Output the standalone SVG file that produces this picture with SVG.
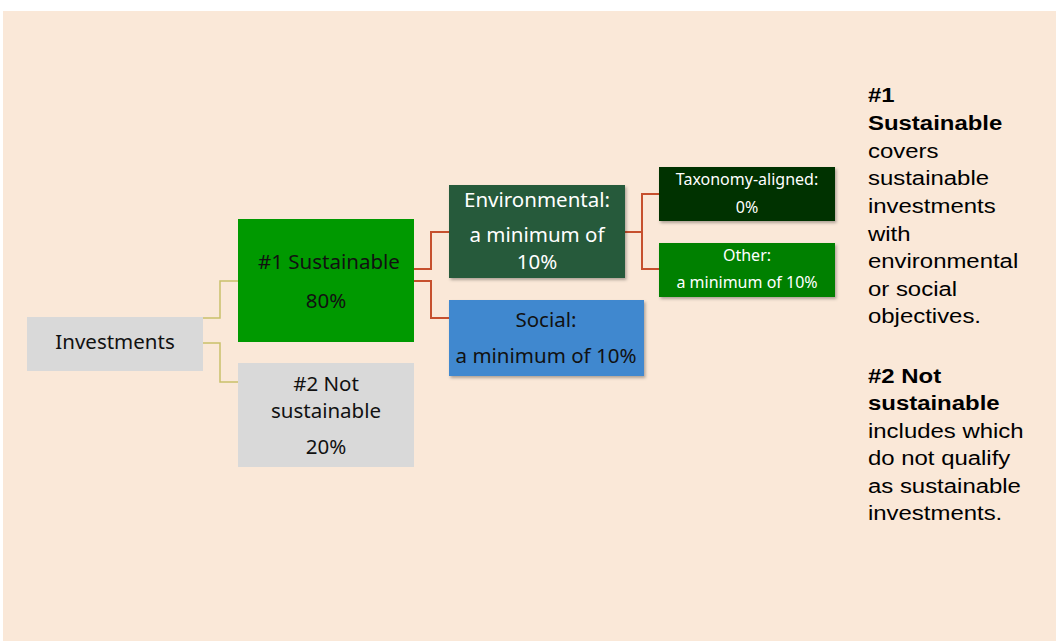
<svg xmlns="http://www.w3.org/2000/svg" width="1056" height="641" viewBox="0 0 1056 641">
<defs>
<filter id="sh" x="-10%" y="-10%" width="130%" height="140%">
<feDropShadow dx="1.5" dy="2" stdDeviation="1.5" flood-color="#000" flood-opacity="0.3"/>
</filter>
<style>
.t{font-family:"Noto Sans","Open Sans",sans-serif;text-anchor:middle;font-size:20.5px;fill:#111}
.w{fill:#fff}
.s{font-size:16px}
.r{font-family:"Liberation Sans",Arial,sans-serif;font-size:21px;fill:#000}
.b{font-weight:bold}
.cy{fill:none;stroke:#c9c06a;stroke-width:1.5}
.cr{fill:none;stroke:#c6502e;stroke-width:2}
</style>
</defs>
<rect x="0" y="0" width="1056" height="641" fill="#fff"/>
<rect x="3" y="11" width="1053" height="630" fill="#fae8d8"/>
<g id="connectors">
<path class="cy" d="M203 318 H220 V281 H238"/>
<path class="cy" d="M203 343 H220 V382 H238"/>
<path class="cr" d="M414 269 H431 V232 H449"/>
<path class="cr" d="M414 281 H431 V318 H449"/>
<path class="cr" d="M625 232 H642 V194 H659"/>
<path class="cr" d="M642 232 V269 H659"/>
</g>
<g id="investments">
<rect x="27" y="317" width="176" height="54" fill="#d9d9d9"/>
<text class="t" x="115" y="349">Investments</text>
</g>
<g id="sustainable">
<rect x="238" y="219" width="176" height="123" fill="#009900"/>
<text class="t" x="329" y="269">#1 Sustainable</text>
<text class="t" x="326" y="308">80%</text>
</g>
<g id="not-sustainable">
<rect x="238" y="363" width="176" height="104" fill="#d9d9d9"/>
<text class="t" x="326" y="391">#2 Not</text>
<text class="t" x="326" y="418">sustainable</text>
<text class="t" x="326" y="454">20%</text>
</g>
<g id="environmental">
<rect x="449" y="185" width="176" height="93" fill="#265a3a" filter="url(#sh)"/>
<text class="t w" x="537" y="207">Environmental:</text>
<text class="t w" x="537" y="242" font-size="20px">a minimum of</text>
<text class="t w" x="537" y="269" font-size="20px">10%</text>
</g>
<g id="social">
<rect x="449" y="300" width="195" height="76" fill="#3f88cf" filter="url(#sh)"/>
<text class="t" x="546" y="327">Social:</text>
<text class="t" x="546" y="363">a minimum of 10%</text>
</g>
<g id="taxonomy">
<rect x="659" y="167" width="176" height="54" fill="#003300" filter="url(#sh)"/>
<text class="t w s" x="747" y="185">Taxonomy-aligned:</text>
<text class="t w s" x="747" y="213">0%</text>
</g>
<g id="other">
<rect x="659" y="243" width="176" height="54" fill="#008000" filter="url(#sh)"/>
<text class="t w s" x="747" y="261">Other:</text>
<text class="t w s" x="747" y="288">a minimum of 10%</text>
</g>
<g id="legend" transform="translate(868 0) scale(1.14 1) translate(-868 0)">
<text class="r b" x="868" y="102">#1</text>
<text class="r b" x="868" y="130">Sustainable</text>
<text class="r" x="868" y="158">covers</text>
<text class="r" x="868" y="185">sustainable</text>
<text class="r" x="868" y="213">investments</text>
<text class="r" x="868" y="241">with</text>
<text class="r" x="868" y="268">environmental</text>
<text class="r" x="868" y="296">or social</text>
<text class="r" x="868" y="323">objectives.</text>
<text class="r b" x="868" y="383">#2 Not</text>
<text class="r b" x="868" y="410">sustainable</text>
<text class="r" x="868" y="438">includes which</text>
<text class="r" x="868" y="465">do not qualify</text>
<text class="r" x="868" y="493">as sustainable</text>
<text class="r" x="868" y="520">investments.</text>
</g>
</svg>
